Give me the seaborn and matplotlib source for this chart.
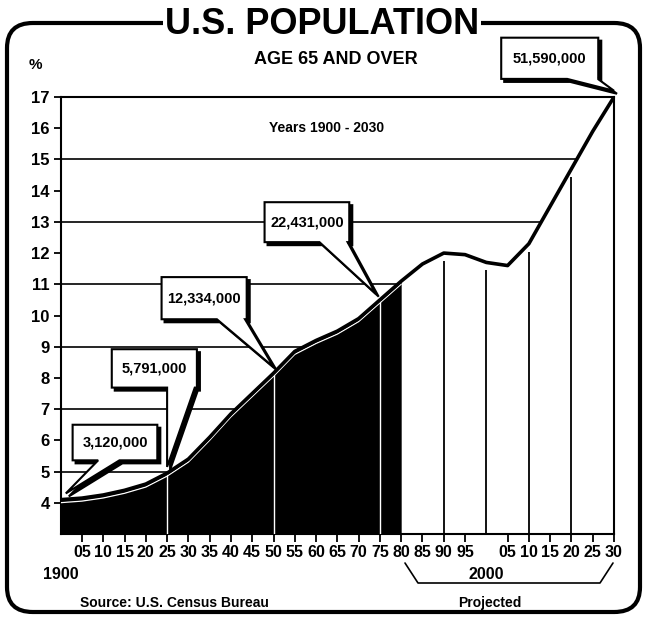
import numpy as np
import pandas as pd
import seaborn as sns
import matplotlib.pyplot as plt
from matplotlib.patches import Polygon, FancyBboxPatch
from matplotlib.lines import Line2D
from matplotlib.transforms import offset_copy

# data: % of US population aged 65+
years = [1900, 1905, 1910, 1915, 1920, 1925, 1930, 1935, 1940, 1945, 1950, 1955, 1960,
         1965, 1970, 1975, 1980, 1985, 1990, 1995, 2000, 2005, 2010, 2015, 2020, 2025, 2030]
pct = [4.1, 4.15, 4.25, 4.4, 4.6, 4.95, 5.4, 6.1, 6.85, 7.5, 8.15, 8.85, 9.2,
       9.5, 9.9, 10.5, 11.1, 11.65, 12.0, 11.95, 11.7, 11.6, 12.3, 13.5, 14.7, 15.9, 17.0]
last_actual = 1980

callout_years = [1900, 1925, 1950, 1975, 2030]
callout_labels = ['3,120,000', '5,791,000', '12,334,000', '22,431,000', '51,590,000']

ytick_vals = list(range(4, 18))
grid_levels = [5, 7, 9, 11, 13, 15]

df = pd.DataFrame({'year': years, 'pct': pct})
hist = df[df.year <= last_actual]

sns.set_theme(style='white')
# narrow faces first if present, else Liberation Sans
plt.rcParams['font.family'] = ['Liberation Sans Narrow', 'Noto Sans Condensed',
                               'DejaVu Sans Condensed', 'Liberation Sans', 'DejaVu Sans']
plt.rcParams['font.stretch'] = 'condensed'
plt.rcParams['font.weight'] = 'bold'
plt.rcParams['text.color'] = 'black'
plt.rcParams['xtick.color'] = 'black'
plt.rcParams['ytick.color'] = 'black'

W, H = 645, 623
fig = plt.figure(figsize=(W / 100, H / 100), dpi=100)
fig.patch.set_facecolor('white')


def px(x, y):
    return x / W, 1 - y / H


ax = fig.add_axes([60.7 / W, 1 - 534 / H, (614 - 60.7) / W, (534 - 97) / H])
ax.set_xlim(1900, 2030)
ax.set_ylim(3, 17)
ax.set_facecolor('white')

# horizontal rules stop where the curve reaches them
for lev in grid_levels:
    xs = None
    for i in range(len(years) - 1):
        if pct[i] <= lev <= pct[i + 1]:
            xs = years[i] + (lev - pct[i]) / (pct[i + 1] - pct[i]) * (years[i + 1] - years[i])
            break
    ax.plot([1900, xs], [lev, lev], color='black', lw=1.2, zorder=1)

# black fill for actual years
ax.fill_between(hist.year, 3, hist.pct, color='black', lw=0, zorder=2)
hv = hist.set_index('year').pct
ax.vlines([1925, 1950, 1975], 3, [hv[1925], hv[1950], hv[1975]], colors='white', lw=1, zorder=3)
ax.plot(hist.year, hist.pct, color='white', lw=0.9, zorder=3,
        transform=offset_copy(ax.transData, fig, x=0, y=-3, units='dots'))

# projected column rules
proj = df[(df.year > last_actual) & (df.year % 10 == 0) & (df.year < 2030)]
ax.vlines(proj.year, 3, proj.pct - 0.25, colors='black', lw=1.3, zorder=2)

sns.lineplot(data=df, x='year', y='pct', ax=ax, color='black', lw=2.6, zorder=4)

# axes styling
for s in ax.spines.values():
    s.set_color('black')
    s.set_linewidth(1.5)
major = [y for y in range(1905, 2031, 5) if y != 2000]
ax.set_xticks(major)
ax.set_xticklabels([f'{y % 100:02d}' for y in major], fontsize=11.5)
ax.set_xticks([1900, 2000], minor=True)
ax.set_xticklabels(['1900', '2000'], minor=True, fontsize=11.5)
ax.tick_params(axis='x', which='major', direction='out', length=6, width=1.3, pad=2, color='black')
ax.tick_params(axis='x', which='minor', direction='out', length=19, width=1.5, pad=5, color='black')
ax.set_yticks(ytick_vals)
ax.set_yticklabels([str(v) for v in ytick_vals], fontsize=12)
ax.tick_params(axis='y', direction='out', length=5, width=1.3, pad=3, color='black', left=True)
ax.tick_params(axis='x', bottom=True)
ax.set_xlabel('')
ax.set_ylabel('')

# callout boxes: (x0, x1, y0, y1, base_left, base_right) in data units
boxes = [(1902.8, 1922.7, 5.36, 6.5, 1908.8, 1913.8),
         (1912.0, 1932.0, 7.69, 8.92, 1925.0, 1931.5),
         (1923.7, 1943.7, 9.88, 11.23, 1936.7, 1943.3),
         (1947.9, 1967.8, 12.35, 13.63, 1960.8, 1967.4),
         (2003.5, 2026.3, 17.58, 18.9, 2019.0, 2026.2)]
tip_dx = [1.2, 0, 0, -1, 0]
for yr, lab, b, dx in zip(callout_years, callout_labels, boxes, tip_dx):
    x0, x1, y0, y1, b0, b1 = b
    tip = (yr + dx, df.set_index('year').pct[yr] + 0.2)
    verts = [(x0, y1), (x1, y1), (x1, y0), (b1, y0), tip, (b0, y0), (x0, y0)]
    shadow = Polygon(verts, closed=True, facecolor='black', edgecolor='black', lw=1.5,
                     transform=offset_copy(ax.transData, fig, x=3, y=-3, units='dots'),
                     clip_on=False, zorder=6)
    box = Polygon(verts, closed=True, facecolor='white', edgecolor='black', lw=1.5,
                  clip_on=False, zorder=7)
    ax.add_patch(shadow)
    ax.add_patch(box)
    ax.text((x0 + x1) / 2, (y0 + y1) / 2, lab, ha='center', va='center',
            fontsize=10.5, zorder=8, clip_on=False)

# frame and titles
fx, fy = px(7, 612)
frame = FancyBboxPatch((fx, fy), 633 / W, (612 - 23) / H, boxstyle='round,pad=0,rounding_size=0.04',
                       transform=fig.transFigure, facecolor='none', edgecolor='black', lw=3, zorder=0)
fig.add_artist(frame)
fig.text(*px(322, 24), 'U.S. POPULATION', ha='center', va='center', fontsize=26,
         bbox=dict(facecolor='white', edgecolor='none', pad=1), zorder=5)
fig.text(*px(336, 59), 'AGE 65 AND OVER', ha='center', va='center', fontsize=13)
fig.text(*px(35, 65), '%', ha='center', va='center', fontsize=11)
fig.text(*px(327, 128), 'Years 1900 - 2030', ha='center', va='center', fontsize=10)
fig.text(*px(80, 603), 'Source: U.S. Census Bureau', ha='left', va='center', fontsize=10)
fig.text(*px(490, 603), 'Projected', ha='center', va='center', fontsize=10)

bx = [405, 418, 600, 613]
by = [563, 583, 583, 563]
fig.add_artist(Line2D([x / W for x in bx], [1 - y / H for y in by], color='black', lw=1.2,
                      transform=fig.transFigure))

fig.savefig('out.png', dpi=100)
